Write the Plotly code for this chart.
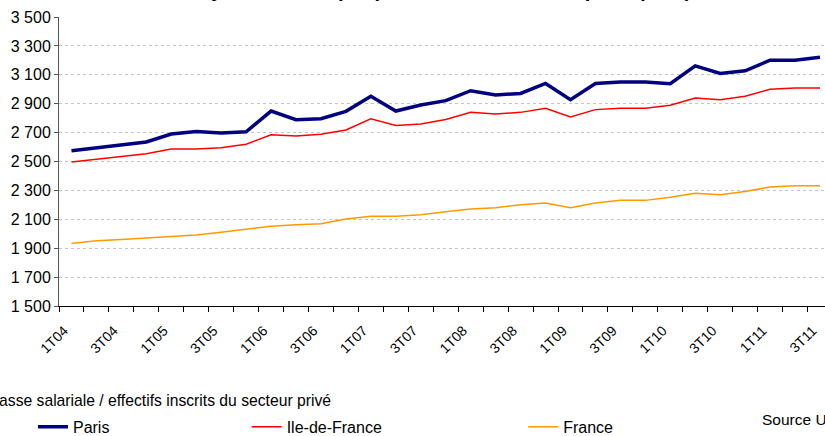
import plotly.graph_objects as go

# Quarterly series, 1T04 .. 3T11
quarters = [f"{q}T{y:02d}" for y in range(4, 12) for q in range(1, 5)][:31]

paris = [2575, 2593, 2612, 2635, 2690, 2708, 2697, 2706, 2849, 2789, 2796,
         2847, 2951, 2849, 2891, 2921, 2990, 2960, 2971, 3040, 2928, 3040,
         3050, 3050, 3038, 3162, 3109, 3128, 3201, 3201, 3222]
idf = [2496, 2515, 2533, 2554, 2586, 2586, 2595, 2619, 2685, 2676, 2688,
       2718, 2796, 2750, 2759, 2790, 2840, 2829, 2840, 2868, 2808, 2859,
       2868, 2868, 2889, 2940, 2928, 2951, 3000, 3008, 3008]
france = [1932, 1951, 1960, 1971, 1981, 1992, 2010, 2031, 2052, 2063, 2070,
          2102, 2121, 2121, 2132, 2153, 2171, 2180, 2201, 2213, 2180, 2213,
          2231, 2231, 2252, 2281, 2270, 2293, 2323, 2332, 2332]

series = [
    ("Paris", paris, "#000080", 3.5, "legend"),
    ("Ile-de-France", idf, "#FF0000", 1.5, "legend2"),
    ("France", france, "#FF9900", 1.5, "legend3"),
]

FONT = "Liberation Sans, Arial, sans-serif"
xs = list(range(len(quarters)))

fig = go.Figure()
for name, vals, color, width, lg in series:
    fig.add_trace(go.Scatter(
        x=xs, y=vals, name=name, mode="lines",
        line=dict(color=color, width=width),
        legend=lg,
    ))

# every other quarter is labelled; rotated labels hang just left of their quarter
label_idx = [i - 0.3 for i in xs[::2]]
label_txt = quarters[::2]

LEG_Y = -0.418
legend_style = dict(orientation="h", y=LEG_Y, yanchor="middle",
                    font=dict(size=16), bgcolor="rgba(0,0,0,0)")

fig.update_layout(
    width=825, height=436,
    margin=dict(l=59, r=0, t=17, b=130, autoexpand=False),
    paper_bgcolor="white", plot_bgcolor="white",
    separators=", ",
    font=dict(family=FONT, color="black"),
    showlegend=True,
    xaxis=dict(
        range=[-0.5, -0.5 + 766 / 24.95],
        automargin=False,
        tickvals=label_idx, ticktext=label_txt,
        tickangle=-45, tickfont=dict(size=14),
        ticklabelstandoff=10, ticklabeloverflow="allow",
        ticks="", showgrid=False, zeroline=False,
        showline=True, linecolor="black", linewidth=1,
        minor=dict(ticks="outside", ticklen=5, tickcolor="black",
                   tick0=-0.5, dtick=1, showgrid=False),
    ),
    yaxis=dict(
        range=[1500, 3500], tick0=1500, dtick=200, tickformat=",d",
        automargin=False,
        tickfont=dict(size=16),
        ticks="outside", ticklen=4, tickcolor="#555",
        showline=True, linecolor="#555", linewidth=1,
        showgrid=True, gridcolor="#c4c4c4", griddash="dot", gridwidth=1,
        zeroline=False,
    ),
    legend=dict(x=-0.034, **legend_style),
    legend2=dict(x=0.245, **legend_style),
    legend3=dict(x=0.606, **legend_style),
    annotations=[
        dict(text="<b>Salaire moyen mensuel par poste dans le secteur privé (en €)</b>",
             xref="paper", yref="paper", x=0.4452, y=1.048,
             xanchor="center", yanchor="bottom", showarrow=False,
             font=dict(size=20)),
        dict(text="Masse salariale / effectifs inscrits du secteur privé",
             xref="paper", yref="paper", x=0.3577, y=-0.3287,
             xanchor="right", yanchor="middle", showarrow=False,
             font=dict(size=15.7)),
        dict(text="Source Unistatis",
             xref="paper", yref="paper", x=0.915, y=-0.394,
             xanchor="left", yanchor="middle", showarrow=False,
             font=dict(size=15.5)),
    ],
)

fig.write_html("out.html")
